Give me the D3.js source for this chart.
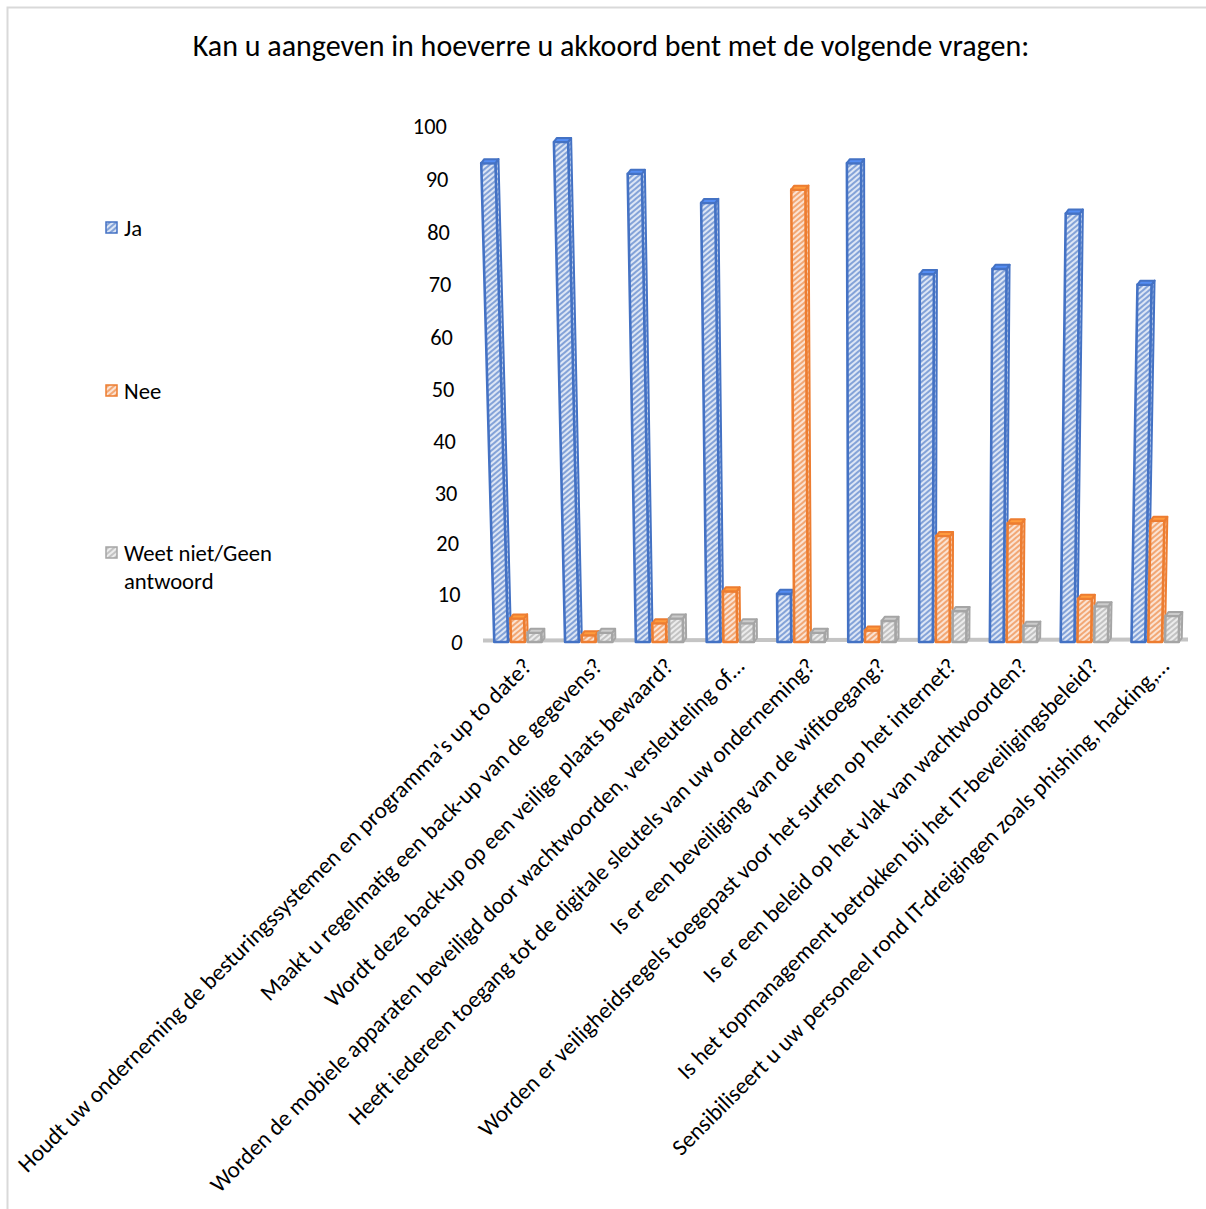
<!DOCTYPE html>
<html>
<head>
<meta charset="utf-8">
<script src="https://cdn.jsdelivr.net/npm/d3@7"></script>
<style>
  body { margin: 0; background: #fff; }
  text { font-family: Carlito, Calibri, "Open Sans", sans-serif; fill: #000; }
</style>
</head>
<body>
<script>
const categories = [
  "Houdt uw onderneming de besturingssystemen en programma's up to date?",
  "Maakt u regelmatig een back-up van de gegevens?",
  "Wordt deze back-up op een veilige plaats bewaard?",
  "Worden de mobiele apparaten beveiligd door wachtwoorden, versleuteling of…",
  "Heeft iedereen toegang tot de digitale sleutels van uw onderneming?",
  "Is er een beveiliging van de wifitoegang?",
  "Worden er veiligheidsregels toegepast voor het surfen op het internet?",
  "Is er een beleid op het vlak van wachtwoorden?",
  "Is het topmanagement betrokken bij het IT-beveiligingsbeleid?",
  "Sensibiliseert u uw personeel rond IT-dreigingen zoals phishing, hacking,…"
];
const seriesNames = ["Ja", "Nee", "Weet niet/Geen antwoord"];
const ja   = [93, 97, 91, 85.5, 10, 93, 72, 73, 83.5, 70];
const nee  = [5, 1.5, 4, 10.5, 88, 2.5, 21.5, 24, 9, 24.5];
const weet = [2, 2, 5, 4, 2, 4.5, 6.5, 3.5, 7.5, 5.5];
const yTicks = [0, 10, 20, 30, 40, 50, 60, 70, 80, 90, 100];

const colors = ["#4472C4", "#ED7D31", "#A5A5A5"];
const tints = ["#dde6f5", "#fbe3d3", "#ececec"];
const values = [ja, nee, weet];

const width = 1206, height = 1209;
const svg = d3.select("body").append("svg")
  .attr("width", width).attr("height", height);

// scale a text's font size so its rendered width hits a target
function fitSize(sel, base, target) {
  sel.attr("font-size", base);
  const w = sel.node().getComputedTextLength();
  return base * target / w;
}

// hatch patterns
const defs = svg.append("defs");
colors.forEach((c, i) => {
  const p = defs.append("pattern")
    .attr("id", "hatch" + i)
    .attr("patternUnits", "userSpaceOnUse")
    .attr("width", 4).attr("height", 4)
    .attr("patternTransform", "rotate(50)");
  p.append("rect").attr("width", 4).attr("height", 4).attr("fill", tints[i]);
  p.append("line").attr("x1", 1).attr("x2", 1).attr("y1", 0).attr("y2", 4)
    .attr("stroke", c).attr("stroke-width", 1.3).attr("stroke-opacity", 0.9);
});

// frame
svg.append("path")
  .attr("d", `M7.5,${height} V7.5 H${width}`)
  .attr("fill", "none").attr("stroke", "#d9d9d9").attr("stroke-width", 2);

// title
const title = svg.append("text")
  .attr("x", 611).attr("y", 56)
  .attr("text-anchor", "middle")
  .text("Kan u aangeven in hoeverre u akkoord bent met de volgende vragen:");
title.attr("font-size", fitSize(title, 24, 837));

// scales
const y = d3.scalePow().exponent(1.03).domain([0, 100]).range([642, 126]);
const x0 = d3.scaleBand().domain(d3.range(categories.length))
  .range([484, 1192]).paddingInner(0.29).paddingOuter(0.145);
const x1 = d3.scaleBand().domain(d3.range(3)).range([0, x0.bandwidth()]);

// perspective: columns lean toward a vanishing x as they rise
const vpX = 890, lean = 0.000354;
const px = (x, v) => vpX + (x - vpX) * (1 + lean * v);

// floor
svg.append("line")
  .attr("x1", 483).attr("x2", 1188)
  .attr("y1", y(0) - 1.5).attr("y2", y(0) - 2.5)
  .attr("stroke", "#c4c4c4").attr("stroke-width", 4);

// y axis labels
const yAxis = svg.append("g");
const probe = yAxis.append("text").text("100");
const tickSize = fitSize(probe, 20, 34);
probe.remove();
yAxis.selectAll("text")
  .data(yTicks)
  .join("text")
  .attr("x", d => px(462, d))
  .attr("y", d => y(d))
  .attr("dy", "0.35em")
  .attr("text-anchor", "end")
  .attr("font-size", tickSize)
  .attr("font-style", d => d === 0 ? "italic" : null)
  .text(d => d);

// bars
const depth = 4;
const side = 3;
categories.forEach((cat, gi) => {
  const g = svg.append("g");
  values.forEach((vals, si) => {
    const v = vals[gi];
    const xl = x0(gi) + x1(si);
    const xr = xl + x1.bandwidth() - side;
    const yb = y(0), yt = y(v);
    const bl = [px(xl, 0), yb], br = [px(xr, 0), yb];
    const tl = [px(xl, v), yt], tr = [px(xr, v), yt];
    // side face
    g.append("path")
      .attr("d", `M${br} L${tr} L${tr[0] + side},${tr[1] - depth} L${br[0] + side},${yb - depth} Z`)
      .attr("fill", `url(#hatch${si})`)
      .attr("stroke", colors[si]).attr("stroke-width", 2)
      .attr("stroke-linejoin", "round");
    // front face
    g.append("path")
      .attr("d", `M${bl} L${tl} L${tr} L${br} Z`)
      .attr("fill", `url(#hatch${si})`)
      .attr("stroke", colors[si]).attr("stroke-width", 2.6)
      .attr("stroke-linejoin", "round");
    // top face
    g.append("path")
      .attr("d", `M${tl} L${tr} L${tr[0] + side},${tr[1] - depth} L${tl[0] + side},${tl[1] - depth} Z`)
      .attr("fill", d3.color(colors[si]).brighter(0.6))
      .attr("stroke", colors[si]).attr("stroke-width", 2)
      .attr("stroke-linejoin", "round");
  });
});

// category labels
const labels = svg.append("g");
const labelProbe = labels.append("text").text(categories[0]);
const labelSize = fitSize(labelProbe, 19, 716);
labelProbe.remove();
labels.selectAll("text")
  .data(categories)
  .join("text")
  .attr("transform", (d, i) => `translate(${x0(i) + x0.bandwidth() / 2 + 8},${662}) rotate(-45)`)
  .attr("text-anchor", "end")
  .attr("dy", "0.35em")
  .attr("font-size", labelSize)
  .text(d => d);

// legend
const legendY = [228, 391, 553];
const legend = svg.append("g");
const legendProbe = legend.append("text").text("Weet niet/Geen");
const legendSize = fitSize(legendProbe, 19, 148);
legendProbe.remove();
seriesNames.forEach((name, i) => {
  legend.append("rect")
    .attr("x", 106).attr("y", legendY[i] - 6)
    .attr("width", 11).attr("height", 11)
    .attr("fill", `url(#hatch${i})`)
    .attr("stroke", colors[i]).attr("stroke-width", 1.5);
  const t = legend.append("text")
    .attr("x", 124).attr("y", legendY[i])
    .attr("dy", "0.35em")
    .attr("font-size", legendSize);
  if (i === 2) {
    t.append("tspan").text("Weet niet/Geen");
    t.append("tspan").attr("x", 124).attr("y", legendY[i] + 28).attr("dy", "0.35em").text("antwoord");
  } else {
    t.text(name);
  }
});
</script>
</body>
</html>
